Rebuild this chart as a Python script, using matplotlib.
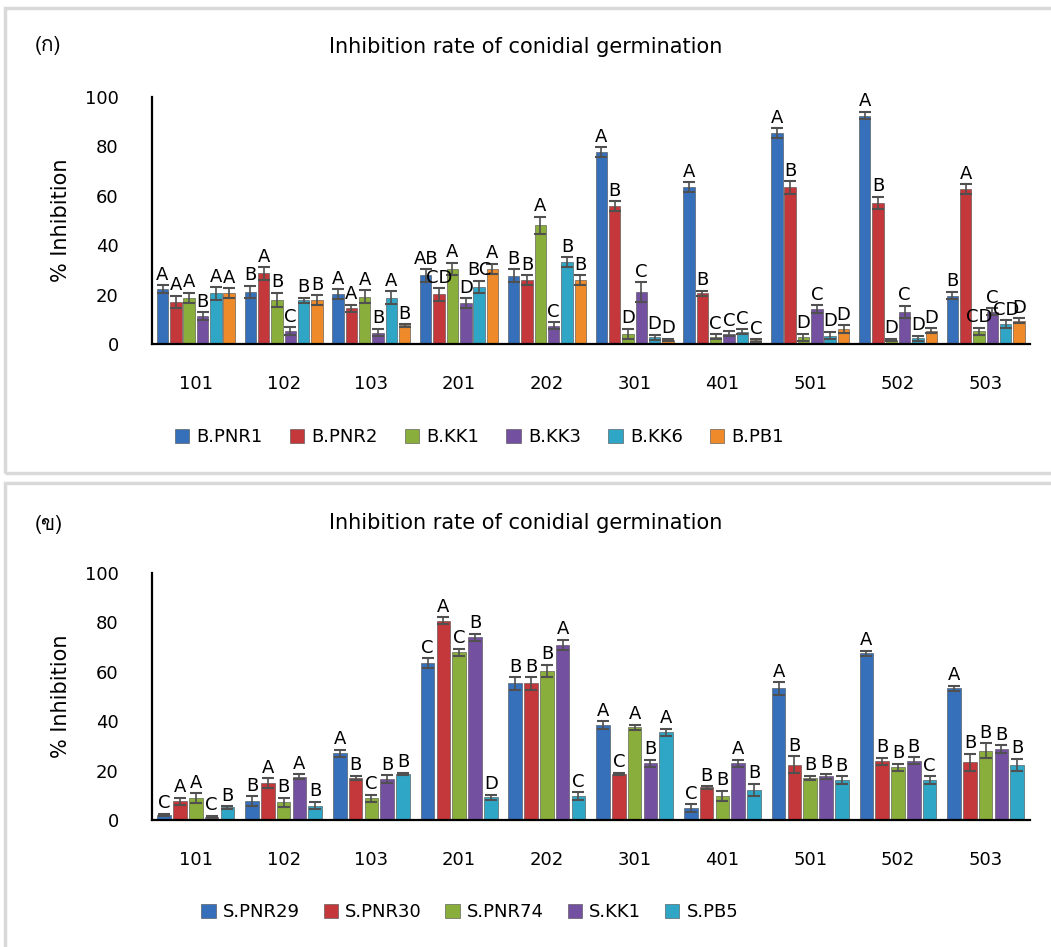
import matplotlib
matplotlib.use("Agg")
import matplotlib.pyplot as plt
import numpy as np
from matplotlib import font_manager
from matplotlib.ft2font import FT2Font
from matplotlib.patches import Rectangle

# Data
groups = ['101', '102', '103', '201', '202', '301', '401', '501', '502', '503']

b_names = ['B.PNR1', 'B.PNR2', 'B.KK1', 'B.KK3', 'B.KK6', 'B.PB1']
b_vals = [
    [22.3, 21.2, 20.1, 27.8, 27.7, 77.7, 63.5, 85.3, 92.5, 19.6],
    [17.0, 28.6, 14.4, 20.1, 25.8, 55.8, 20.5, 63.4, 57.1, 62.7],
    [18.8, 17.8, 19.2, 30.5, 48.0, 4.2, 3.0, 2.7, 1.6, 5.1],
    [11.3, 5.3, 4.6, 16.6, 7.4, 21.0, 4.2, 14.2, 13.1, 13.1],
    [20.5, 17.7, 18.8, 23.1, 33.1, 2.7, 4.9, 3.4, 2.3, 8.1],
    [20.5, 17.7, 7.6, 30.5, 25.8, 1.6, 1.5, 6.1, 5.4, 9.4],
]
b_err = [
    [1.5, 2.5, 2.0, 2.5, 2.5, 2.0, 2.0, 2.0, 1.5, 1.5],
    [2.5, 2.5, 1.5, 2.5, 2.0, 2.0, 1.0, 2.5, 2.5, 2.0],
    [2.0, 3.0, 2.5, 2.5, 3.5, 2.0, 1.0, 1.5, 0.5, 1.5],
    [1.5, 1.5, 1.5, 2.0, 1.5, 4.0, 1.0, 1.5, 2.5, 1.5],
    [2.5, 1.0, 2.5, 2.5, 2.0, 1.0, 1.0, 1.5, 1.0, 1.5],
    [2.0, 2.0, 0.5, 2.0, 2.0, 0.5, 0.5, 1.5, 1.0, 1.0],
]
b_letters = [
    ['A', 'B', 'A', 'AB', 'B', 'A', 'A', 'A', 'A', 'B'],
    ['A', 'A', 'A', 'CD', 'B', 'B', 'B', 'B', 'B', 'A'],
    ['A', 'B', 'A', 'A', 'A', 'D', 'C', 'D', 'D', 'CD'],
    ['B', 'C', 'B', 'D', 'C', 'C', 'C', 'C', 'C', 'C'],
    ['A', 'B', 'A', 'BC', 'B', 'D', 'C', 'D', 'D', 'CD'],
    ['A', 'B', 'B', 'A', 'B', 'D', 'C', 'D', 'D', 'D'],
]

s_names = ['S.PNR29', 'S.PNR30', 'S.PNR74', 'S.KK1', 'S.PB5']
s_vals = [
    [2.1, 7.6, 27.0, 63.4, 55.3, 38.5, 4.9, 53.3, 67.5, 53.3],
    [7.6, 15.0, 17.0, 80.7, 55.3, 18.6, 13.2, 22.4, 23.7, 23.3],
    [8.8, 7.1, 8.8, 67.9, 60.4, 37.5, 9.8, 17.0, 21.3, 28.0],
    [1.3, 17.5, 16.6, 73.9, 71.0, 22.9, 22.9, 17.7, 24.0, 28.7],
    [5.1, 5.8, 18.6, 9.2, 9.8, 35.5, 12.1, 16.2, 16.2, 22.3],
]
s_err = [
    [0.5, 2.0, 1.5, 2.0, 2.5, 1.5, 1.5, 2.5, 1.0, 1.0],
    [1.5, 2.0, 1.0, 1.5, 2.5, 0.5, 0.5, 3.5, 1.5, 3.5],
    [2.0, 2.0, 1.5, 1.5, 2.5, 1.0, 2.0, 1.0, 1.5, 3.0],
    [0.5, 1.0, 1.5, 1.5, 2.0, 1.5, 1.5, 1.0, 1.5, 1.5],
    [0.5, 1.5, 0.5, 1.0, 1.5, 1.5, 2.5, 1.5, 1.5, 2.5],
]
s_letters = [
    ['C', 'B', 'A', 'C', 'B', 'A', 'C', 'A', 'A', 'A'],
    ['A', 'A', 'B', 'A', 'B', 'C', 'B', 'B', 'B', 'B'],
    ['A', 'B', 'C', 'C', 'B', 'A', 'B', 'B', 'B', 'B'],
    ['C', 'A', 'B', 'B', 'A', 'B', 'A', 'B', 'B', 'B'],
    ['B', 'B', 'B', 'D', 'C', 'A', 'B', 'B', 'C', 'B'],
]

b_colors = ['#3670BB', '#C4373A', '#8AAE3C', '#7450A0', '#30A6C6', '#EE8A2A']
s_colors = b_colors[:5]


def thai_font():
    # find an installed font that has Thai glyphs for the panel marks
    for f in font_manager.fontManager.ttflist:
        try:
            if FT2Font(f.fname).get_char_index(ord('ก')):
                return f.name
        except Exception:
            pass
    return 'DejaVu Sans'


plt.rcParams['font.family'] = ['DejaVu Sans']
thai = thai_font()


def draw_panel(ax, names, vals, errs, letters, colors, slot, width):
    x = np.arange(len(groups))
    n = len(names)
    for i in range(n):
        pos = x + (i - (n - 1) / 2) * slot
        ax.bar(pos, vals[i], width, color=colors[i], edgecolor='#4a4a4a',
               linewidth=0.4, label=names[i], zorder=2)
        ax.errorbar(pos, vals[i], yerr=errs[i], fmt='none', ecolor='#505050',
                    elinewidth=1.2, capsize=4, capthick=1.5, zorder=3)
        for p, v, e, t in zip(pos, vals[i], errs[i], letters[i]):
            ax.text(p, v + e + 0.6, t, ha='center', va='bottom', fontsize=13,
                    zorder=4)
    ax.set_xlim(-0.5, len(groups) - 0.5)
    ax.set_ylim(0, 100)
    ax.set_yticks([0, 20, 40, 60, 80, 100])
    ax.set_xticks(x)
    ax.set_xticklabels(groups, fontsize=12.5)
    ax.tick_params(axis='both', length=0, labelsize=13)
    ax.tick_params(axis='x', pad=22)
    ax.tick_params(axis='y', pad=24)
    for s in ['top', 'right']:
        ax.spines[s].set_visible(False)
    ax.spines['left'].set_linewidth(1.6)
    ax.spines['bottom'].set_linewidth(1.6)
    ax.set_ylabel('% Inhibition', fontsize=15, labelpad=10)
    ax.set_facecolor('none')


fig = plt.figure(figsize=(10.51, 9.47), dpi=100)

# panel frames
fig.patches.append(Rectangle((0.005, 0.5005), 1.2, 0.4915, transform=fig.transFigure,
                             fill=False, edgecolor='#D9D9D9', linewidth=2.5))
fig.patches.append(Rectangle((0.005, -0.01), 1.2, 0.5, transform=fig.transFigure,
                             fill=False, edgecolor='#D9D9D9', linewidth=2.5))

ax1 = fig.add_axes([0.1446, 0.6367, 0.835, 0.2608])
draw_panel(ax1, b_names, b_vals, b_err, b_letters, b_colors, 0.152, 0.13)
ax1.legend(loc='center', bbox_to_anchor=(0.456, 0.5385), bbox_transform=fig.transFigure,
           ncol=6, frameon=False, fontsize=13, handlelength=0.8, handleheight=0.8,
           columnspacing=1.5, handletextpad=0.4)
fig.text(0.5, 0.950, 'Inhibition rate of conidial germination', ha='center',
         va='center', fontsize=15)
fig.text(0.033, 0.952, '(ก)', ha='left', va='center', fontsize=15,
         family=[thai, 'DejaVu Sans'])

ax2 = fig.add_axes([0.1446, 0.1341, 0.835, 0.2608])
draw_panel(ax2, s_names, s_vals, s_err, s_letters, s_colors, 0.18, 0.155)
ax2.legend(loc='center', bbox_to_anchor=(0.447, 0.037), bbox_transform=fig.transFigure,
           ncol=5, frameon=False, fontsize=13, handlelength=0.8, handleheight=0.8,
           columnspacing=1.3, handletextpad=0.4)
fig.text(0.5, 0.448, 'Inhibition rate of conidial germination', ha='center',
         va='center', fontsize=15)
fig.text(0.033, 0.446, '(ข)', ha='left', va='center', fontsize=15,
         family=[thai, 'DejaVu Sans'])

fig.savefig('out.png', dpi=100)
